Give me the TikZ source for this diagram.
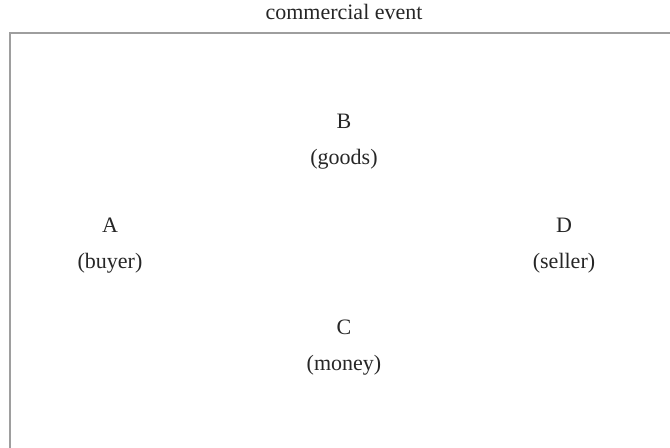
\documentclass[tikz,border=0pt]{standalone}
\usepackage{fontspec}
\setmainfont{Liberation Serif}
\begin{document}
\begin{tikzpicture}[x=0.75pt,y=-0.75pt,
  lbl/.style={align=center,inner sep=0pt,font=\fontsize{16.5}{27}\selectfont,text=black!85},
  frame/.style={draw=black!38,line width=1.5pt}]
\useasboundingbox (0,0) rectangle (670,447);
\coordinate (fbl) at (10,448);
\coordinate (ftl) at (10,33);
\coordinate (ftr) at (671,33);
\draw[frame] (fbl) -- (ftl) -- (ftr);
\node[lbl] (title) at (344,12) {commercial event};
\node[lbl] (B) at (344,142) {B\\(goods)};
\node[lbl] (A) at (110,246) {A\\(buyer)};
\node[lbl] (D) at (564,246) {D\\(seller)};
\node[lbl] (C) at (344,348) {C\\(money)};
\end{tikzpicture}
\end{document}
